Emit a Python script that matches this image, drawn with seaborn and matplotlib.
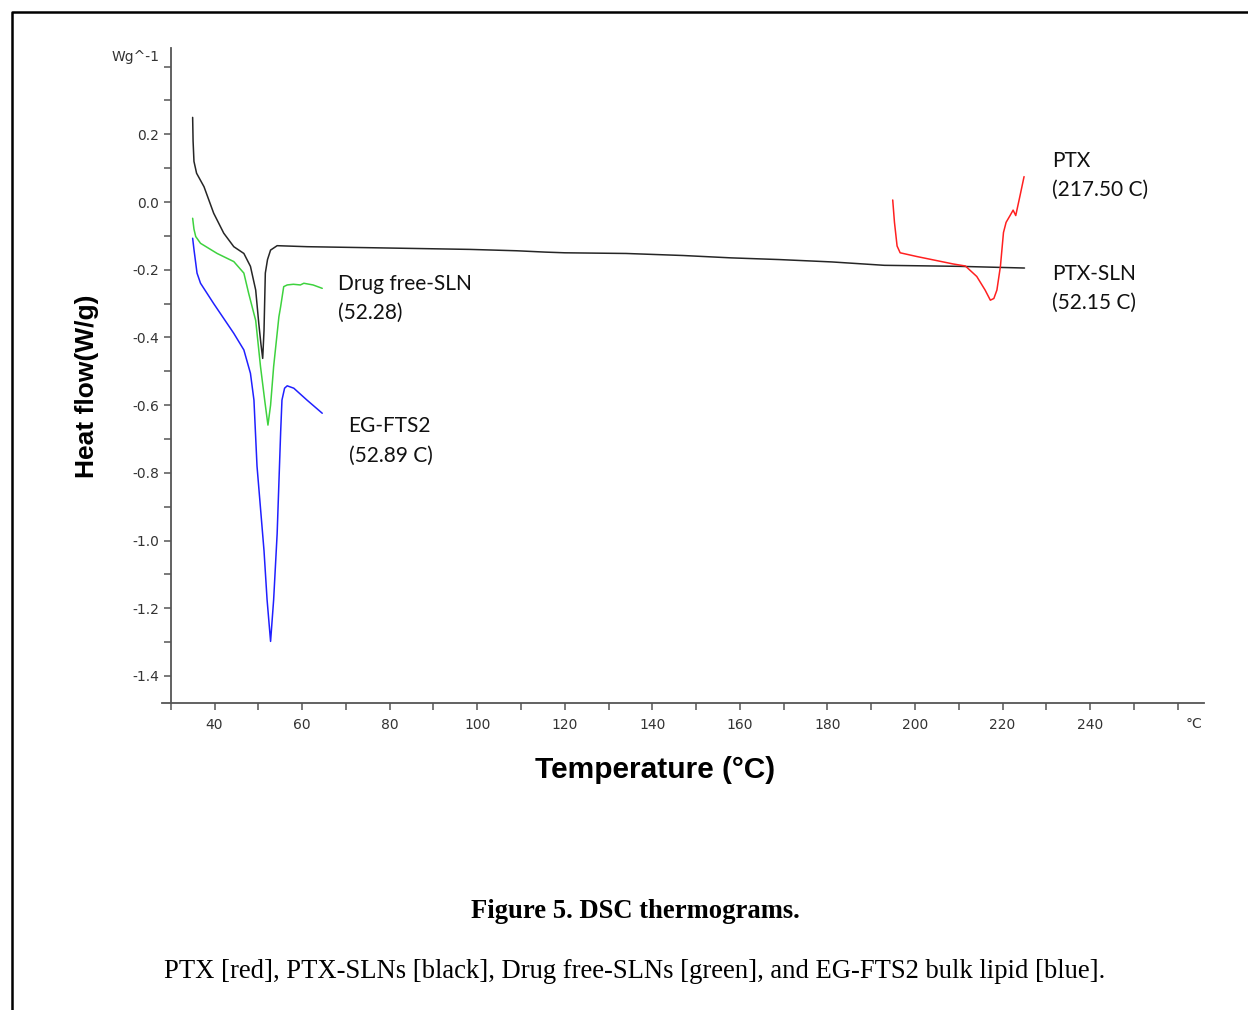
import matplotlib
matplotlib.use("Agg")
import matplotlib.pyplot as plt
import seaborn as sns
from matplotlib.lines import Line2D
from matplotlib.ticker import MultipleLocator, FixedLocator

# DSC thermogram curves (temperature in C, heat flow in W/g)
ptx_sln_t = [35.0, 35.1, 35.3, 35.9, 37.6, 39.8, 42.1, 44.4, 46.7, 48.2, 49.4, 50.1, 50.6, 51.0,
             51.3, 51.6, 52.1, 52.8, 54.3, 61.2, 75.6, 98.4, 109, 115.6, 120, 134, 147, 158,
             169, 181, 193, 210, 225]
ptx_sln_hf = [0.25, 0.18, 0.12, 0.085, 0.045, -0.033, -0.092, -0.132, -0.152, -0.19, -0.26, -0.358,
              -0.42, -0.462, -0.38, -0.21, -0.17, -0.142, -0.129, -0.132, -0.135, -0.14, -0.144,
              -0.148, -0.15, -0.152, -0.158, -0.165, -0.170, -0.177, -0.187, -0.19, -0.195]

free_sln_t = [35.0, 35.3, 35.7, 36.8, 40.6, 44.4, 46.7, 47.8, 48.6, 49.4, 50.5, 51.5, 52.2, 52.8,
              53.5, 54.7, 55.1, 55.8, 56.6, 58.0, 59.6, 60.4, 62.5, 64.6]
free_sln_hf = [-0.048, -0.08, -0.102, -0.122, -0.152, -0.176, -0.21, -0.27, -0.31, -0.35, -0.486,
               -0.59, -0.659, -0.60, -0.486, -0.339, -0.309, -0.25, -0.245, -0.243, -0.245, -0.24,
               -0.245, -0.255]

egfts2_t = [35.0, 35.3, 36.0, 36.8, 39.8, 44.4, 46.7, 48.2, 49.0, 49.7, 51.3, 52.0, 52.8, 53.5,
            54.3, 55.1, 55.4, 56.0, 56.6, 58.1, 61.1, 64.6]
egfts2_hf = [-0.107, -0.14, -0.21, -0.24, -0.30, -0.388, -0.437, -0.506, -0.585, -0.78, -1.03,
             -1.175, -1.298, -1.175, -0.98, -0.68, -0.585, -0.55, -0.543, -0.55, -0.585, -0.624]

ptx_t = [194.9, 195.3, 195.9, 196.6, 200.4, 208.7, 211.5, 214.1, 216.0, 217.2, 218.0, 218.7,
         219.5, 220.2, 220.8, 221.7, 222.4, 223.0, 224.0, 224.9]
ptx_hf = [0.006, -0.06, -0.13, -0.15, -0.161, -0.183, -0.189, -0.22, -0.26, -0.29, -0.285, -0.26,
          -0.19, -0.09, -0.06, -0.04, -0.024, -0.04, 0.02, 0.075]

x_major = [40, 60, 80, 100, 120, 140, 160, 180, 200, 220, 240, 260]
x_labels = ["40", "60", "80", "100", "120", "140", "160", "180", "200", "220", "240", ""]
y_major = [-1.4, -1.2, -1.0, -0.8, -0.6, -0.4, -0.2, 0.0, 0.2, 0.4]
y_labels = ["-1.4", "-1.2", "-1.0", "-0.8", "-0.6", "-0.4", "-0.2", "0.0", "0.2", ""]

sns.set_style("white")
plt.rcParams['font.family'] = ['DejaVu Sans']

fig = plt.figure(figsize=(12.48, 10.10), dpi=100)
ax = fig.add_axes([162 / 1248, 1 - 703 / 1010, (1204 - 162) / 1248, (703 - 48) / 1010])

sns.lineplot(x=ptx_sln_t, y=ptx_sln_hf, sort=False, estimator=None, color='#262626', lw=1.1, ax=ax)
sns.lineplot(x=free_sln_t, y=free_sln_hf, sort=False, estimator=None, color='#3ed23e', lw=1.1, ax=ax)
sns.lineplot(x=egfts2_t, y=egfts2_hf, sort=False, estimator=None, color='#2020ff', lw=1.1, ax=ax)
sns.lineplot(x=ptx_t, y=ptx_hf, sort=False, estimator=None, color='#ff2020', lw=1.1, ax=ax)

ax.set_xlim(28, 266)
ax.set_ylim(-1.48, 0.455)

for s in ['top', 'right']:
    ax.spines[s].set_visible(False)
ax.spines['left'].set_position(('data', 30))
for s in ['left', 'bottom']:
    ax.spines[s].set_color('#555555')
    ax.spines[s].set_linewidth(1.3)

ax.xaxis.set_major_locator(FixedLocator(x_major))
ax.set_xticklabels(x_labels)
ax.xaxis.set_minor_locator(FixedLocator([30, 50, 70, 90, 110, 130, 150, 170, 190, 210, 230, 250]))
ax.yaxis.set_major_locator(FixedLocator(y_major))
ax.set_yticklabels(y_labels)
ax.yaxis.set_minor_locator(MultipleLocator(0.1))
ax.tick_params(which='both', direction='out', length=5, width=1.1, color='#555555',
               labelsize=10, labelcolor='#333333', bottom=True, left=True)
ax.tick_params(axis='x', pad=6)

ax.text(-0.002, 0.986, "Wg^-1", transform=ax.transAxes, ha='right', va='center',
        fontsize=10, color='#333333')
ax.text(263.7, -0.032, "\u00b0C", transform=ax.get_xaxis_transform(), ha='center', va='center',
        fontsize=10, color='#333333')

ax.set_xlabel("Temperature (\u00b0C)", fontsize=21.5, fontweight='bold', family='Liberation Sans',
              color='black')
ax.xaxis.set_label_coords(0.473, -0.081)
ax.set_ylabel("Heat flow(W/g)", fontsize=19, fontweight='bold', family='Liberation Sans',
              color='black')
ax.yaxis.set_label_coords(-0.0606, 0.484)

lab = dict(fontsize=15, family='Lato', color='#111111', ha='left', va='center')
ax.text(68.3, -0.242, "Drug free-SLN", **lab)
ax.text(68.3, -0.328, "(52.28)", **lab)
ax.text(70.6, -0.662, "EG-FTS2", **lab)
ax.text(70.6, -0.750, "(52.89 C)", **lab)
ax.text(231.3, 0.122, "PTX", **lab)
ax.text(231.3, 0.035, "(217.50 C)", **lab)
ax.text(231.3, -0.212, "PTX-SLN", **lab)
ax.text(231.3, -0.297, "(52.15 C)", **lab)

fig.text(635 / 1248, 1 - 912 / 1010, "Figure 5. DSC thermograms.", ha='center', va='center',
         fontsize=19.2, fontweight='bold', family='Liberation Serif', color='black')
fig.text(635 / 1248, 1 - 972 / 1010,
         "PTX [red], PTX-SLNs [black], Drug free-SLNs [green], and EG-FTS2 bulk lipid [blue].",
         ha='center', va='center', fontsize=19.2, family='Liberation Serif', color='black')

fig.add_artist(Line2D([12 / 1248, 12 / 1248, 1], [0, 1 - 12 / 1010, 1 - 12 / 1010],
                      transform=fig.transFigure, color='black', lw=1.8))

fig.savefig("out.png", dpi=100)
